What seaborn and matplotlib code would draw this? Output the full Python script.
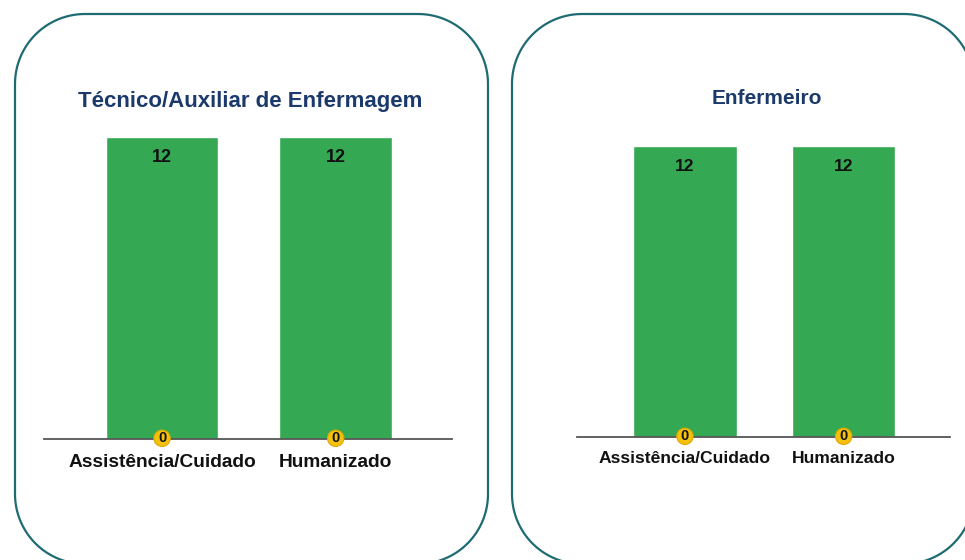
"""Bar panels: Técnico/Auxiliar de Enfermagem vs Enfermeiro"""

import matplotlib
matplotlib.use("Agg")
import matplotlib.pyplot as plt
from matplotlib.patches import Polygon
import seaborn as sns
import numpy as np
import pandas as pd

# Data
categories = ["Assistência/Cuidado", "Humanizado"]
tecnico_values = [12, 12]
enfermeiro_values = [12, 12]
zero_values = [0, 0]
panel_titles = ["Técnico/Auxiliar de Enfermagem", "Enfermeiro"]

BAR_COLOR = "#34a853"
TITLE_COLOR = "#1b3a6b"
BOX_COLOR = "#1f6b73"
ZERO_COLOR = "#f4c20d"

sns.set_style("white")
plt.rcParams["font.family"] = ["Liberation Sans", "DejaVu Sans"]

W, H = 965, 560
fig = plt.figure(figsize=(W / 100, H / 100), dpi=100)


def px_rect(x0, y0, x1, y1):
    """pixel box (top-left origin) -> figure fraction [l, b, w, h]"""
    return [x0 / W, 1 - y1 / H, (x1 - x0) / W, (y1 - y0) / H]


def rounded_outline(x0, y0, x1, y1, r, n=30):
    """outline points of a rounded rectangle (pixels, bottom-left origin)"""
    pts = []
    corners = [(x1 - r, y1 - r, 0), (x0 + r, y1 - r, 90),
               (x0 + r, y0 + r, 180), (x1 - r, y0 + r, 270)]
    for cx, cy, start in corners:
        t = np.radians(np.linspace(start, start + 90, n))
        pts.extend(zip(cx + r * np.cos(t), cy + r * np.sin(t)))
    return np.array(pts)


# Rounded frames behind each panel (pixel coordinates)
for x0, x1 in [(15, 488), (512, 974)]:
    outline = rounded_outline(x0, H - 564, x1, H - 14, 70)
    frame = Polygon(outline / 100, closed=True, transform=fig.dpi_scale_trans,
                    facecolor="none", edgecolor=BOX_COLOR, linewidth=1.6, zorder=-1)
    fig.patches.append(frame)

panels = [
    dict(values=tecnico_values, rect=px_rect(44, 137, 452, 439), title_xy=(250, 101),
         title_size=16, label_size=13.8, pad=11, value_size=13),
    dict(values=enfermeiro_values, rect=px_rect(577, 146, 950, 437), title_xy=(767, 98),
         title_size=15, label_size=12.6, pad=10, value_size=12.5),
]

for title, p in zip(panel_titles, panels):
    ax = fig.add_axes(p["rect"])
    ax.set_facecolor("none")
    df = pd.DataFrame({"categoria": categories, "valor": p["values"], "zero": zero_values})
    sns.barplot(data=df, x="categoria", y="valor", color=BAR_COLOR, width=0.65,
                saturation=1, ax=ax)
    ax.set_xlim(-0.68, 1.67)
    ax.set_ylim(0, max(p["values"]))
    ax.set_xlabel("")
    ax.set_ylabel("")
    ax.set_yticks([])
    for side in ["top", "left", "right"]:
        ax.spines[side].set_visible(False)
    ax.spines["bottom"].set_color("#555555")
    ax.spines["bottom"].set_linewidth(1.3)
    ax.tick_params(axis="x", length=0, pad=p["pad"])
    for lbl in ax.get_xticklabels():
        lbl.set_fontweight("bold")
        lbl.set_fontsize(p["label_size"])
        lbl.set_color("#111111")

    # value labels inside the bar top
    for i, v in enumerate(df["valor"]):
        ax.annotate(str(v), (i, v), xytext=(0, -15), textcoords="offset points",
                    ha="center", va="center", fontsize=p["value_size"], fontweight="bold",
                    color="#111111")
    # zero series labels at the baseline
    for i, z in enumerate(df["zero"]):
        ax.annotate(str(z), (i, z), xytext=(0, 0.5), textcoords="offset points",
                    ha="center", va="center", fontsize=10.5, fontweight="bold",
                    color="#111111", annotation_clip=False,
                    bbox=dict(boxstyle="circle,pad=0.08", facecolor=ZERO_COLOR,
                              edgecolor="#e0a800", linewidth=0.8))

    tx, ty = p["title_xy"]
    fig.text(tx / W, 1 - ty / H, title, ha="center", va="center",
             fontsize=p["title_size"], fontweight="bold", color=TITLE_COLOR)

plt.savefig("out.png", dpi=100)
plt.close()
